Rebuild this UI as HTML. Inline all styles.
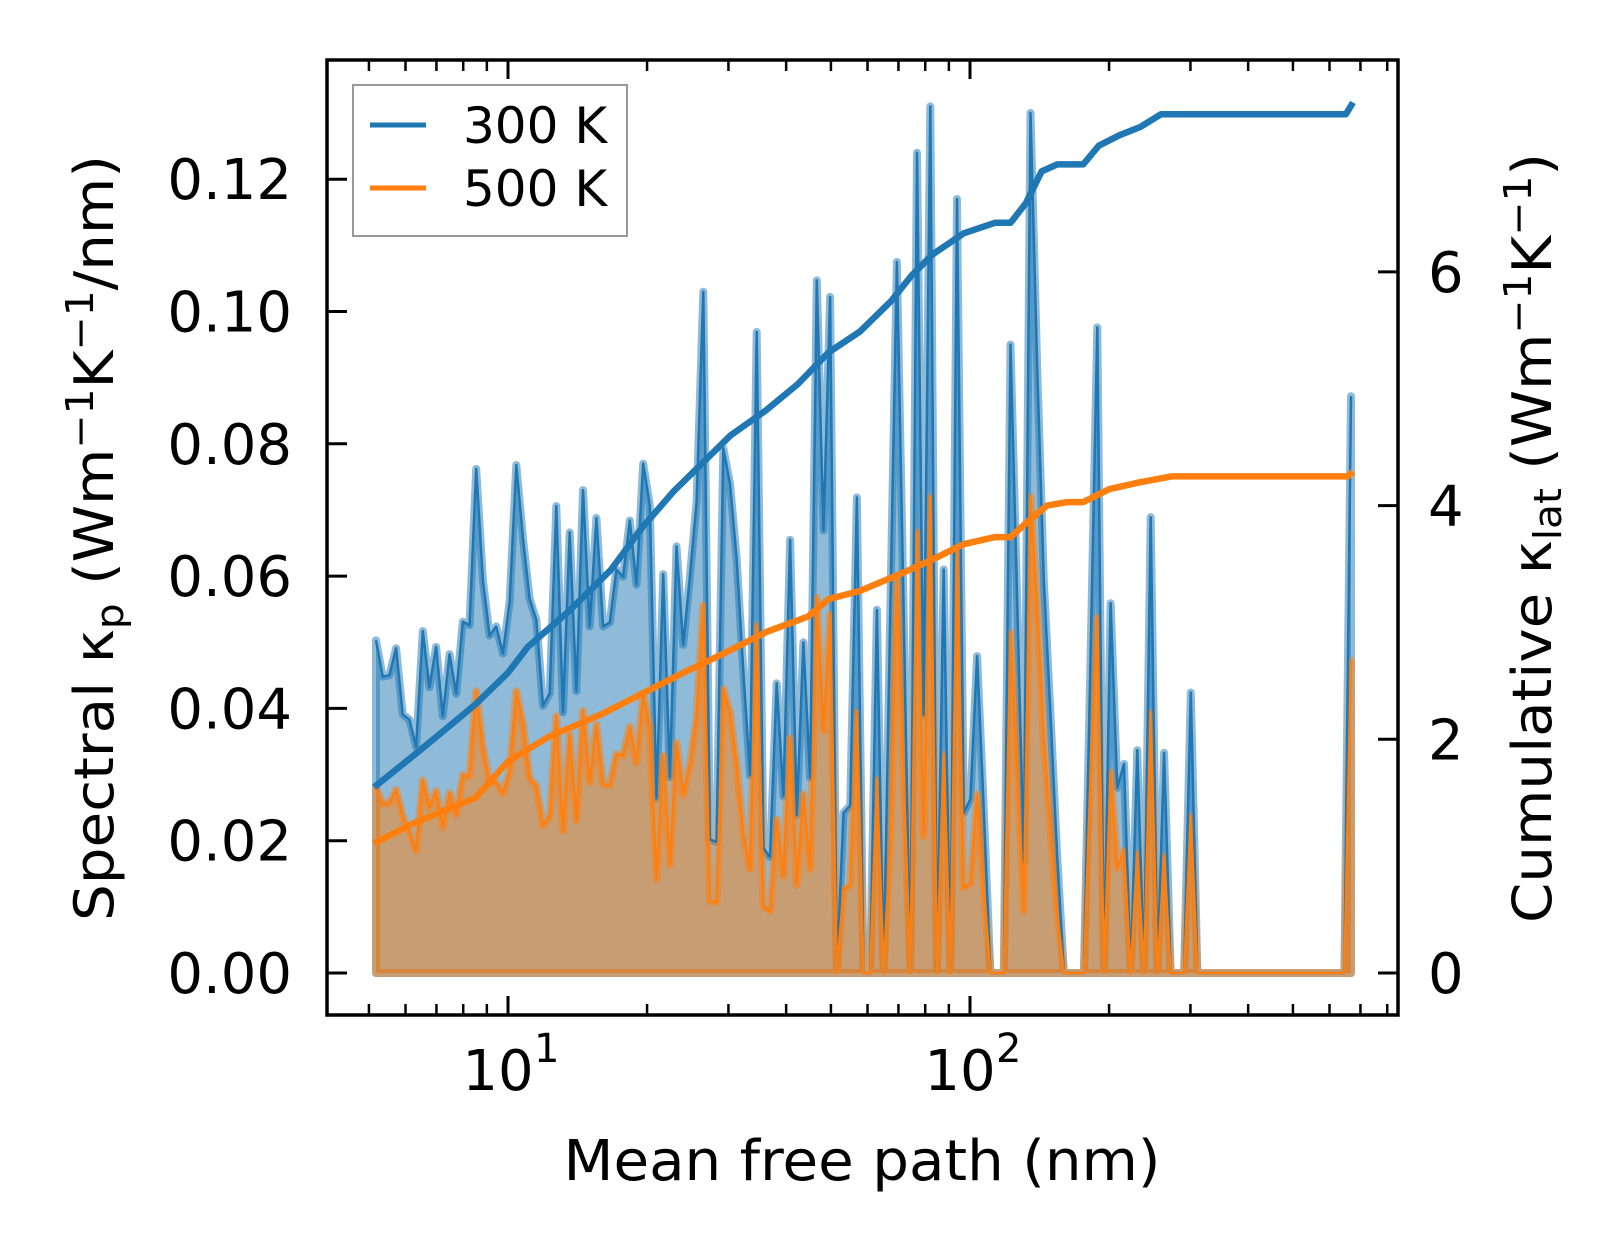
<!DOCTYPE html>
<html><head><meta charset="utf-8">
<style>
html,body{margin:0;padding:0;background:#fff;}
svg{display:block;font-family:"DejaVu Sans","Liberation Sans",sans-serif;}
</style></head>
<body>
<svg id="chart" width="1623" height="1254" viewBox="0 0 1623 1254" xmlns="http://www.w3.org/2000/svg">
<rect width="1623" height="1254" fill="#fff"/>
<g id="marks"></g>
<g id="axes"></g>
<g>
  <rect x="353" y="85" width="274" height="151" fill="#fff" fill-opacity="0.8" stroke="#999" stroke-width="2"/>
  <line x1="370" y1="125" x2="426" y2="125" stroke="#1f77b4" stroke-width="5"/>
  <text x="463" y="143" font-size="50" fill="#000">300 K</text>
  <line x1="370" y1="188" x2="426" y2="188" stroke="#ff7f0e" stroke-width="5"/>
  <text x="463" y="206" font-size="50" fill="#000">500 K</text>
</g>
<text x="862" y="1180" font-size="56" text-anchor="middle" textLength="597" lengthAdjust="spacingAndGlyphs">Mean free path (nm)</text>
<text transform="translate(113,538) rotate(-90)" font-size="54" text-anchor="middle" textLength="766" lengthAdjust="spacingAndGlyphs">Spectral κ<tspan font-size="38" dy="10">p</tspan><tspan dy="-10"> (Wm</tspan><tspan font-size="38" dy="-20">−1</tspan><tspan dy="20">K</tspan><tspan font-size="38" dy="-20">−1</tspan><tspan dy="20">/nm)</tspan></text>
<text transform="translate(1551,538) rotate(-90)" font-size="54" text-anchor="middle" textLength="770" lengthAdjust="spacingAndGlyphs">Cumulative κ<tspan font-size="38" dy="10">lat</tspan><tspan dy="-10"> (Wm</tspan><tspan font-size="38" dy="-20">−1</tspan><tspan dy="20">K</tspan><tspan font-size="38" dy="-20">−1</tspan><tspan dy="20">)</tspan></text>
</svg>
<script>
// ---- data ----
const mfpFirst = 5.18;   // nm, first bin
const mfpLast = 668;     // nm, last bin
const spectral300 = [0.0503,0.0448,0.045,0.0491,0.0391,0.0383,0.0342,0.0517,0.0432,0.0493,0.0388,0.0482,0.0422,0.0531,0.0526,0.0762,0.0594,0.051,0.0524,0.0483,0.0561,0.0768,0.0658,0.0566,0.0534,0.0404,0.0423,0.0706,0.0394,0.0666,0.0426,0.073,0.0524,0.0688,0.0524,0.053,0.061,0.0599,0.0684,0.0587,0.077,0.0707,0.0264,0.0603,0.0296,0.0645,
0.0496,0.0599,0.0712,0.103,0.0202,0.0198,0.0793,0.074,0.0627,0.0457,0.0299,0.0969,0.0189,0.0175,0.0438,0.0267,0.0655,0.0239,0.05,0.0295,0.1047,0.0669,0.1022,0,0.0242,0.0253,0.0719,0,0,0.0549,0,0.054,0.1075,0.055,0,0.124,0.039,0.131,0,0.061,0,0.117,0.0242,0.0263,0.0479,0.025,0,0,0,0.095,
0.0568,0.0168,0.130,0.0915,0.0594,0.039,0.0176,0,0,0,0,0.048,0.0976,0,0.0559,0.028,0.0316,0,0.0337,0,0.0689,0,0.0333,0,0,0,0.0424,0,
0,0,0,0,0,0,0,0,0,0,0,0,0,0,0,0,0,0,0,0,0,0,0.0872];
const spectral500 = [0.028,0.0256,0.0257,0.0277,0.0237,0.0215,0.0185,0.0291,0.025,0.0275,0.0221,0.0272,0.0239,0.0299,0.0297,0.0426,0.034,0.0288,0.0288,0.0272,0.0304,0.0426,0.0377,0.0294,0.0283,0.0223,0.0237,0.0388,0.0215,0.0361,0.0231,0.0396,0.0288,0.0375,0.0285,0.0285,0.0331,0.0329,0.0372,0.0318,0.0421,0.0372,0.0142,0.0329,0.0164,0.0348,
0.027,0.0316,0.0387,0.0556,0.0108,0.0108,0.0429,0.0394,0.0316,0.021,0.0157,0.0525,0.0101,0.0094,0.0232,0.0147,0.0355,0.0133,0.027,0.0157,0.0567,0.0366,0.0542,0,0.0126,0.0133,0.0394,0,0,0.0292,0,0.02,0.0595,0.03,0,0.0666,0.0207,0.0719,0,0.033,0,0.0638,0.0129,0.0136,0.027,0.013,0,0,0,0.0514,
0.0307,0.0094,0.072,0.055,0.035,0.022,0.009,0,0,0,0,0.03,0.0537,0,0.0303,0.0159,0.0185,0,0.0181,0,0.0394,0,0.0176,0,0,0,0.0237,0,
0,0,0,0,0,0,0,0,0,0,0,0,0,0,0,0,0,0,0,0,0,0,0.0472];
const cumMfp300 = [5.13,6.24,7.29,8.51,10,11.03,13.57,16.69,19.5,22.8,26.6,30.3,36.3,42.4,49.4,57.8,67.5,74.8,83.0,96.9,113.2,122.4,132.2,142.9,154.5,175.8,190,210.7,233.7,259.2,302.7,651,674.5];
const cum300 = [1.59,1.86,2.08,2.30,2.57,2.79,3.10,3.45,3.81,4.12,4.38,4.60,4.82,5.04,5.31,5.49,5.75,5.97,6.15,6.33,6.42,6.42,6.59,6.86,6.92,6.92,7.08,7.17,7.24,7.35,7.35,7.35,7.45];
const cumMfp500 = [5.13,6.24,8.51,10,12.23,15.85,19.5,23.98,29.5,36.3,44.6,49.4,57.8,71.1,83.0,96.9,113.2,122.4,132.2,146.7,162.6,175.8,200,233.7,272.9,657.7,674.5];
const cum500 = [1.11,1.28,1.50,1.81,2.02,2.21,2.39,2.57,2.74,2.92,3.05,3.20,3.27,3.42,3.54,3.67,3.73,3.73,3.85,4.0,4.03,4.03,4.14,4.20,4.25,4.25,4.29];
const leftTicks = [0,0.02,0.04,0.06,0.08,0.10,0.12];
const leftTickLabels = ["0.00","0.02","0.04","0.06","0.08","0.10","0.12"];
const rightTicks = [0,2,4,6];
const rightTickLabels = ["0","2","4","6"];
const xMajor = [10,100];
const xMajorExp = ["1","2"];
const xMinor = [5,6,7,8,9,20,30,40,50,60,70,80,90,200,300,400,500,600,700,800];

// ---- layout ----
const L=327,R=1398,T=60,B=1015;
const xS = v => 508 + 462*(Math.log10(v)-1);
const yL = v => 973 - v*6615;
const yR = v => 973 - v*116.85;
const NS='http://www.w3.org/2000/svg';
function mk(tag, attrs, parent){const e=document.createElementNS(NS,tag);for(const k in attrs)e.setAttribute(k,attrs[k]);parent.appendChild(e);return e;}
const marks=document.getElementById('marks');
const axes=document.getElementById('axes');

const n = spectral300.length;
const mfp = spectral300.map((_,i)=>Math.pow(10, Math.log10(mfpFirst) + i*(Math.log10(mfpLast)-Math.log10(mfpFirst))/(n-1)));

function linePts(xs, ys, yf){return xs.map((x,i)=>xS(x).toFixed(1)+','+yf(ys[i]).toFixed(1)).join(' ');}
function fillPoly(vals, color, name){
  const pts = linePts(mfp, vals, yL) + ' ' + xS(mfp[n-1]).toFixed(1)+','+yL(0) + ' ' + xS(mfp[0]).toFixed(1)+','+yL(0);
  const p = mk('polygon',{points:pts, fill:color, 'fill-opacity':0.5, stroke:color, 'stroke-opacity':0.5, 'stroke-width':8, 'stroke-linejoin':'round'}, marks);
  
  
}
fillPoly(spectral300,'#1f77b4','spectral-300k-fill');
fillPoly(spectral500,'#ff7f0e','spectral-500k-fill');
function line(xs, ys, yf, color, w, name){
  const p = mk('polyline',{points:linePts(xs,ys,yf), fill:'none', stroke:color, 'stroke-width':w, 'stroke-linejoin':'round'}, marks);
  
  
}
line(mfp, spectral300, yL, '#1f77b4', 2.5, 'spectral-300k-line');
line(mfp, spectral500, yL, '#ff7f0e', 2.5, 'spectral-500k-line');
line(cumMfp300, cum300, yR, '#1f77b4', 6.5, 'cumulative-300k-line');
line(cumMfp500, cum500, yR, '#ff7f0e', 6.5, 'cumulative-500k-line');

// ---- axes ----
const frame = mk('rect',{x:L,y:T,width:R-L,height:B-T,fill:'none',stroke:'#000','stroke-width':3.5},axes);


leftTicks.forEach((v,i)=>{
  const y=yL(v);
  const t=mk('line',{x1:L,y1:y,x2:L+20,y2:y,stroke:'#000','stroke-width':3},axes);
  
  
  const tx=mk('text',{x:292,y:y+20,'font-size':56,'text-anchor':'end'},axes);
  tx.textContent=leftTickLabels[i];
  
  
});
rightTicks.forEach((v,i)=>{
  const y=yR(v);
  const t=mk('line',{x1:R-20,y1:y,x2:R,y2:y,stroke:'#000','stroke-width':3},axes);
  
  
  const tx=mk('text',{x:1428,y:y+20,'font-size':56},axes);
  tx.textContent=rightTickLabels[i];
  
  
});
xMajor.forEach((v,i)=>{
  const x=xS(v);
  [[B,B-19],[T,T+19]].forEach(([a,b])=>{
    const t=mk('line',{x1:x,y1:a,x2:x,y2:b,stroke:'#000','stroke-width':3},axes);
    
    
  });
  const tx=mk('text',{x:x-10,y:1090,'font-size':56,'text-anchor':'middle'},axes);
  tx.textContent='10';
  
  
  const sp=mk('text',{x:x+26,y:1062,'font-size':40,'text-anchor':'start'},axes);
  sp.textContent=xMajorExp[i];
  
  
});
xMinor.forEach(v=>{
  const x=xS(v);
  [[B,B-11],[T,T+11]].forEach(([a,b])=>{
    const t=mk('line',{x1:x,y1:a,x2:x,y2:b,stroke:'#000','stroke-width':2.5},axes);
    
    
  });
});
</script>
</body></html>
